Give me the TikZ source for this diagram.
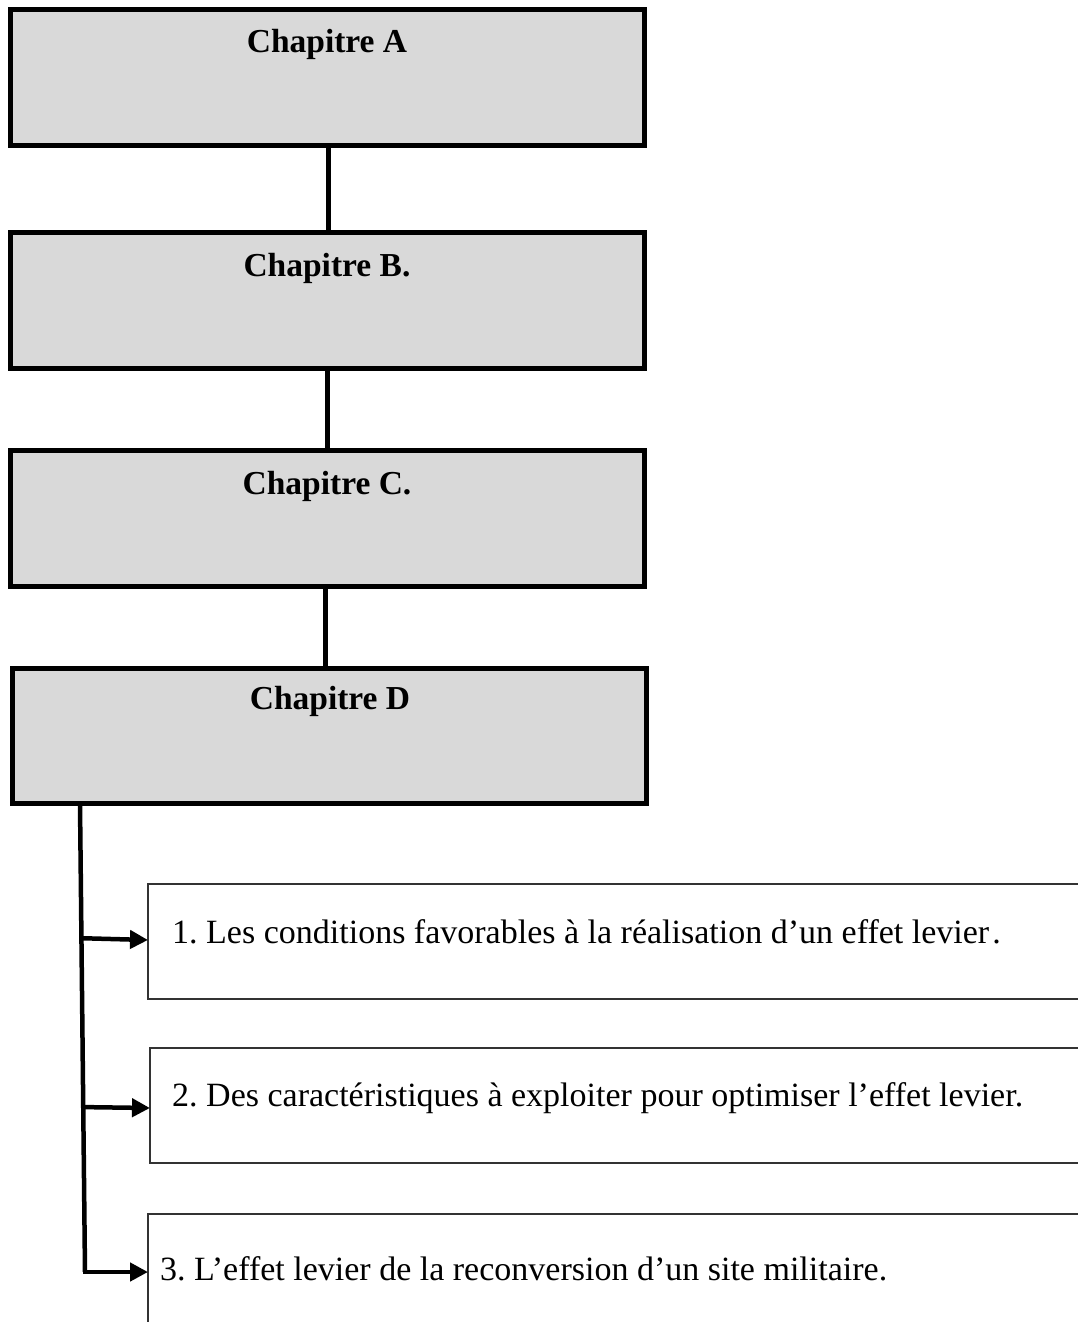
\documentclass[tikz,border=0pt]{standalone}
\usepackage{fontspec}
\setmainfont{Liberation Serif}
\usetikzlibrary{arrows.meta,calc}
\definecolor{boxgray}{HTML}{D9D9D9}
\definecolor{thinline}{HTML}{333333}
\frenchspacing
\begin{document}
\begin{tikzpicture}[x=1pt,y=-1pt,
  chbox/.style={draw=black,line width=5pt,fill=boxgray,minimum width=634pt,minimum height=136pt,inner sep=0pt,outer sep=0pt},
  chtitle/.style={font=\fontsize{33.5}{40}\selectfont\bfseries,inner sep=0pt},
  subbox/.style={draw=thinline,line width=1.6pt,fill=white,anchor=north west,minimum height=115pt,minimum width=960pt,inner sep=0pt,outer sep=0pt},
  subtext/.style={font=\fontsize{34}{40}\selectfont,anchor=west,inner sep=0pt},
  conn/.style={line width=5pt},
  tree/.style={line width=4.5pt},
  arr/.style={line width=4.5pt,-{Triangle[length=18pt,width=18pt]}}
]
\useasboundingbox (0,0) rectangle (1078,1322);
\clip (0,0) rectangle (1078,1322);
\fill[white] (0,0) rectangle (1078,1322);

% chapter boxes
\node[chbox] (A) at (327.5,77.5) {};
\node[chbox] (B) at (327.5,300.5) {};
\node[chbox] (C) at (327.5,518.5) {};
\node[chbox,minimum height=135pt] (D) at (329.5,736) {};

\node[chtitle] (At) at (327,44) {Chapitre A};
\node[chtitle] (Bt) at (327,268) {Chapitre B.};
\node[chtitle] (Ct) at (327,486) {Chapitre C.};
\node[chtitle] (Dt) at (330,701) {Chapitre D};

% connectors between chapters
\draw[conn] (A.south -| 328,0) -- (B.north -| 328,0);
\draw[conn] (B.south -| 327,0) -- (C.north -| 327,0);
\draw[conn] (C.south -| 325,0) -- (D.north -| 325,0);

% sub boxes
\node[subbox] (S1) at (148,884) {};
\node[subbox] (S2) at (150,1048) {};
\node[subbox,minimum height=140pt] (S3) at (148,1214) {};

\node[subtext] (T1) at (172,932) {1. Les conditions favorables à la réalisation d’un effet levier\kern3pt.};
\node[subtext] (T2) at (172,1098) {2. Des caractéristiques à exploiter pour optimiser l’effet levier.};
\node[subtext] (T3) at (160,1269) {3. L’effet levier de la reconversion d’un site militaire.};

% tree
\coordinate (top) at (D.south -| 80,0);
\coordinate (bot) at (85,1272);
\draw[tree] (top) -- (bot);
\draw[arr] ($(top)!0.2875!(bot)$) -- (S1.west |- 0,940);
\draw[arr] ($(top)!0.648!(bot)$) -- (S2.west |- 0,1108);
\draw[arr] ($(bot)+(-2.2,0)$) -- (S3.west |- bot);
\end{tikzpicture}
\end{document}
